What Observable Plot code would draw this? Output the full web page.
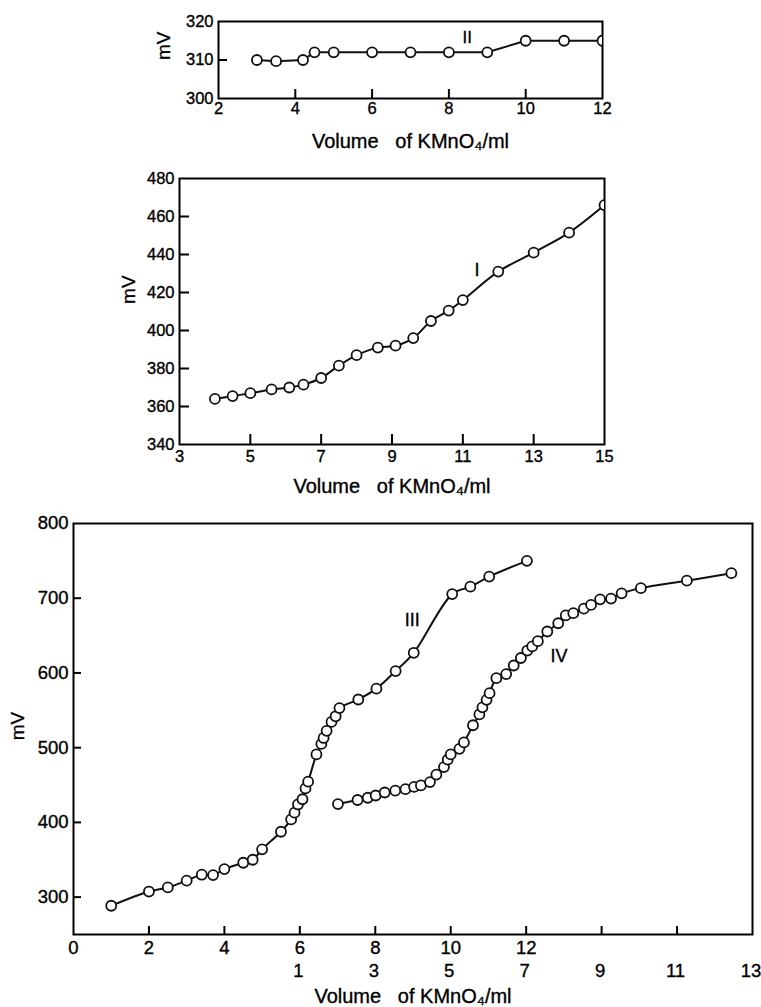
<!DOCTYPE html>
<html>
<head>
<meta charset="utf-8">
<script src="https://cdn.jsdelivr.net/npm/d3@7"></script>
<script src="https://cdn.jsdelivr.net/npm/@observablehq/plot@0.6"></script>
<style>
  body { margin: 0; background: #fff; }
  #chart { width: 761px; height: 1007px; position: relative; overflow: hidden; background: #fff; }
  #chart svg { display: block; }
  #chart svg text { stroke: #000; stroke-width: 0.35px; }
</style>
</head>
<body>
<div id="chart"></div>
<script>
const FONT = '"Liberation Sans", Arial, Helvetica, sans-serif';
const xTitle = "Volume\u00a0\u00a0\u00a0of KMnO\u2084/ml";
const yTitle = "mV";

// ---- Curve II (top panel) ----
const volII = [3, 3.5, 4.2, 4.5, 5, 6, 7, 8, 9, 10, 11, 12];
const mvII  = [310, 309.7, 310, 312, 312, 312, 312, 312, 312, 315, 315, 315];
const xTicksII = [2, 4, 6, 8, 10, 12];
const yTicksII = [300, 310, 320];

// ---- Curve I (middle panel) ----
const volI = [4.0, 4.5, 5.0, 5.6, 6.1, 6.5, 7.0, 7.5, 8.0, 8.6, 9.1, 9.6, 10.1, 10.6, 11.0, 12, 13, 14, 15];
const mvI  = [364, 365.5, 367, 369, 370, 371.5, 375, 381.5, 387, 391, 392, 396, 405, 410.5, 416, 431, 441, 451.5, 466];
const xTicksI = [3, 5, 7, 9, 11, 13, 15];
const yTicksI = [340, 360, 380, 400, 420, 440, 460, 480];

// ---- Curve III (bottom panel, upper volume scale) ----
const volIII = [1.0, 2.0, 2.5, 3.0, 3.4, 3.7, 4.0, 4.5, 4.75, 5.0, 5.5, 5.77, 5.86, 5.95, 6.07, 6.15, 6.22, 6.44, 6.57, 6.63, 6.71, 6.84, 6.95, 7.05, 7.55, 8.03, 8.54, 9.02, 10.04, 10.52, 11.02, 12.02];
const mvIII  = [288.5, 307.5, 313, 322, 330, 329.5, 337.5, 346, 350, 364, 387.5, 404, 413, 424, 431, 445.5, 454.5, 491, 505, 513, 522.5, 534.5, 542, 553, 564.5, 579, 602.5, 627, 705.5, 715.5, 729, 750];

// ---- Curve IV (bottom panel, lower volume scale) ----
const volIV = [2.01, 2.53, 2.80, 3.01, 3.25, 3.53, 3.80, 4.03, 4.21, 4.45, 4.62, 4.82, 4.92, 5.00, 5.23, 5.35, 5.59, 5.76, 5.84, 5.95, 6.03, 6.21, 6.47, 6.67, 6.86, 7.03, 7.16, 7.31, 7.56, 7.85, 8.05, 8.25, 8.53, 8.72, 8.96, 9.25, 9.53, 10.04, 11.26, 12.44];
const mvIV  = [424.5, 430, 433, 436, 440, 442.5, 444.5, 447.5, 449.5, 454, 464, 474, 484, 491, 498.5, 507, 530, 544.5, 554, 564, 573, 593, 598.5, 610, 620, 630, 635.5, 642.5, 655.5, 666.5, 677, 680, 686, 691, 698.5, 699.5, 706.5, 713.5, 723.5, 733.5];
const scaleShiftIV = 5;              // lower volume scale starts 5 units right of upper scale
const xTicksIIIupper = [0, 2, 4, 6, 8, 10, 12];
const xTicksIVlower = [1, 3, 5, 7, 9, 11, 13];
const xTicksIIIinner = [2, 4, 6, 8, 10, 12, 14, 16];
const yTicksIII = [300, 400, 500, 600, 700, 800];

const zip = (xs, ys) => xs.map((v, i) => ({v, mv: ys[i]}));
const dataII = zip(volII, mvII);
const dataI = zip(volI, mvI);
const dataIII = zip(volIII, mvIII);
const dataIV = zip(volIV, mvIV);

const root = document.getElementById("chart");
const baseStyle = (fs) => ({fontFamily: FONT, fontSize: fs + "px", color: "black", background: "white", overflow: "visible"});

function panel({height, mt, mb, ml, mr, xDomain, yDomain, xTicks, yTicks, tickFs, xPad, yPad, tickLen, clip, series, labels, mvY, mvDx, titleDy, extraMarks = []}) {
  const W = 761;
  const fw = W - ml - mr, fh = height - mt - mb;
  const innerX = xTicks.filter(t => t > xDomain[0] && t < xDomain[1]);
  const innerY = yTicks.filter(t => t > yDomain[0] && t < yDomain[1]);
  const marks = [
    Plot.frame({stroke: "black", strokeWidth: 2}),
    Plot.tickX(innerX, {x: d => d, insetTop: fh - tickLen, stroke: "black", strokeWidth: 2}),
    Plot.tickY(innerY, {y: d => d, insetRight: fw - tickLen, stroke: "black", strokeWidth: 2}),
    Plot.axisY({ticks: yTicks, tickSize: 0, tickPadding: yPad, label: null, fontSize: tickFs}),
    ...extraMarks
  ];
  if (!extraMarks.length) marks.push(Plot.axisX({ticks: xTicks, tickSize: 0, tickPadding: xPad, label: null, fontSize: tickFs}));
  for (const s of series) {
    marks.push(Plot.line(s.data, {x: s.x, y: "mv", curve: s.curve, stroke: "#111", strokeWidth: 2, clip}));
  }
  for (const s of series) {
    marks.push(Plot.dot(s.data, {x: s.x, y: "mv", r: 5, fill: "white", stroke: "#111", strokeWidth: 1.8, clip}));
  }
  for (const l of labels) {
    marks.push(Plot.text([l], {x: d => d.x, y: d => d.y, text: d => d.t, fontSize: l.fs, fill: "black"}));
  }
  marks.push(Plot.text([yTitle], {text: d => d, frameAnchor: "left", y: mvY, rotate: -90, dx: mvDx, fontSize: 19, fill: "black"}));
  marks.push(Plot.text([xTitle], {text: d => d, frameAnchor: "bottom", dy: titleDy, fontSize: 20, fill: "black"}));
  return Plot.plot({
    width: W, height,
    marginTop: mt, marginBottom: mb, marginLeft: ml, marginRight: mr,
    x: {domain: xDomain}, y: {domain: yDomain},
    style: baseStyle(tickFs),
    marks
  });
}

// Top panel: curve II
root.append(panel({
  height: 165, mt: 21, mb: 67, ml: 218, mr: 159,
  xDomain: [2, 12], yDomain: [300, 320],
  xTicks: xTicksII, yTicks: yTicksII, tickFs: 16.5, xPad: 4, yPad: 5, tickLen: 9, clip: true,
  series: [{data: dataII, x: "v", curve: "linear"}],
  labels: [{x: 8.48, y: 315.8, t: "II", fs: 17}],
  mvY: 310, mvDx: -55, titleDy: 49
}));

// Middle panel: curve I
root.append(panel({
  height: 340, mt: 13, mb: 61, ml: 179, mr: 157,
  xDomain: [3, 15], yDomain: [340, 480],
  xTicks: xTicksI, yTicks: yTicksI, tickFs: 16.5, xPad: 6, yPad: 5, tickLen: 10, clip: true,
  series: [{data: dataI, x: "v", curve: "catmull-rom"}],
  labels: [{x: 11.4, y: 431.5, t: "I", fs: 18}],
  mvY: 414, mvDx: -51, titleDy: 48
}));

// Bottom panel: curves III and IV (two volume scales)
root.append(panel({
  height: 502, mt: 18, mb: 73, ml: 73, mr: 9,
  xDomain: [0, 18], yDomain: [250, 800],
  xTicks: xTicksIIIinner, yTicks: yTicksIII, tickFs: 18.5, xPad: 6, yPad: 5, tickLen: 8, clip: false,
  series: [
    {data: dataIII, x: "v", curve: "catmull-rom"},
    {data: dataIV, x: d => d.v + scaleShiftIV, curve: "catmull-rom"}
  ],
  labels: [
    {x: 8.98, y: 670, t: "III", fs: 18},
    {x: 7.87 + scaleShiftIV, y: 623, t: "IV", fs: 18}
  ],
  mvY: 510, mvDx: -56, titleDy: 68,
  extraMarks: [
    Plot.axisX({ticks: xTicksIIIupper, tickSize: 0, tickPadding: 6, label: null, fontSize: 18.5}),
    Plot.axisX({ticks: xTicksIVlower.map(t => t + scaleShiftIV), tickFormat: d => String(d - scaleShiftIV), tickSize: 0, tickPadding: 29, dx: -1.5, label: null, fontSize: 18.5})
  ]
}));
</script>
</body>
</html>
